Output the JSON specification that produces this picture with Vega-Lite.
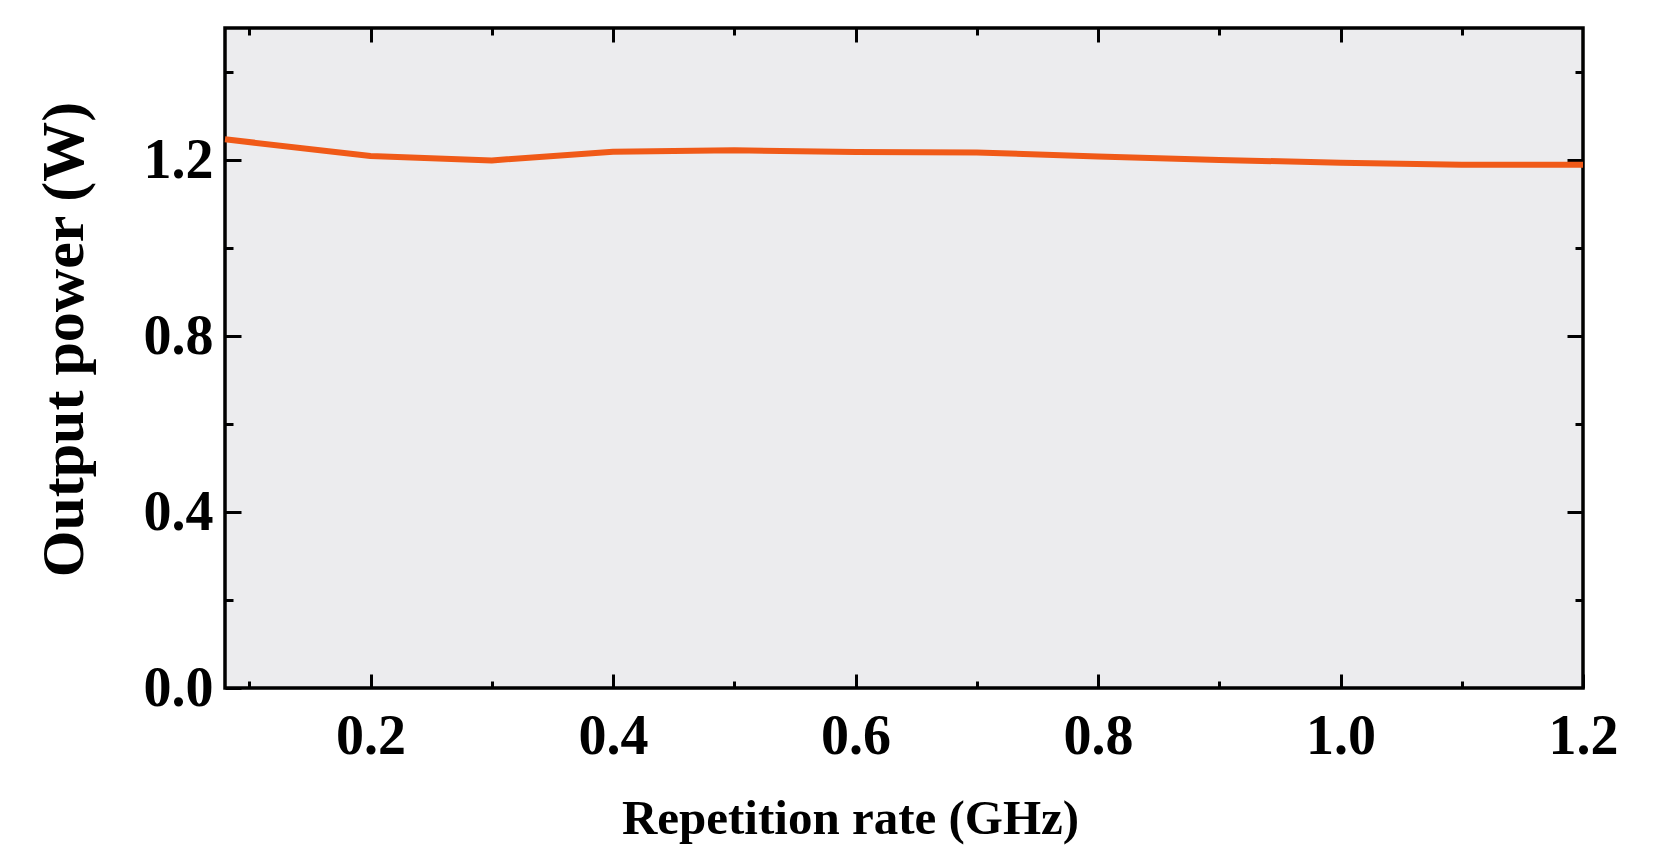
{
  "$schema": "https://vega.github.io/schema/vega-lite/v6.json",
  "autosize": {"type": "none"},
  "padding": {"left": 225, "top": 28, "right": 80, "bottom": 157},
  "width": 1358,
  "height": 660,
  "background": "white",
  "config": {
    "font": "Liberation Serif",
    "view": {"fill": "#ECECEE", "stroke": "black", "strokeWidth": 3.5},
    "axis": {"grid": false, "domain": false, "tickColor": "black", "tickWidth": 3, "labelColor": "black", "titleColor": "black", "labelFontWeight": "bold", "titleFontWeight": "bold", "labelFont": "Liberation Serif", "titleFont": "Liberation Serif"}
  },
  "data": {"values": [
    {"rate": 0.08, "power": 1.247},
    {"rate": 0.2, "power": 1.209},
    {"rate": 0.3, "power": 1.199},
    {"rate": 0.4, "power": 1.219},
    {"rate": 0.5, "power": 1.222},
    {"rate": 0.6, "power": 1.218},
    {"rate": 0.7, "power": 1.217},
    {"rate": 0.8, "power": 1.208},
    {"rate": 0.9, "power": 1.2},
    {"rate": 1.0, "power": 1.194},
    {"rate": 1.1, "power": 1.189},
    {"rate": 1.2, "power": 1.189}
  ]},
  "resolve": {"axis": {"x": "independent", "y": "independent"}},
  "layer": [
    {
      "mark": {"type": "line", "strokeOpacity": 0},
      "encoding": {
        "x": {"field": "rate", "type": "quantitative", "scale": {"domain": [0.08, 1.2], "nice": false, "zero": false},
          "axis": {"orient": "bottom", "labels": false, "title": null, "tickSize": -14, "values": [0.2, 0.4, 0.6, 0.8, 1.0, 1.2]}},
        "y": {"field": "power", "type": "quantitative", "scale": {"domain": [0, 1.5], "nice": false, "zero": true},
          "axis": {"orient": "left", "labels": false, "title": null, "tickSize": -16, "values": [0, 0.4, 0.8, 1.2]}}
      }
    },
    {
      "mark": {"type": "line", "strokeOpacity": 0},
      "encoding": {
        "x": {"field": "rate", "type": "quantitative", "scale": {"domain": [0.08, 1.2], "nice": false, "zero": false},
          "axis": {"orient": "bottom", "labels": false, "title": null, "tickSize": -7, "values": [0.1, 0.3, 0.5, 0.7, 0.9, 1.1]}},
        "y": {"field": "power", "type": "quantitative", "scale": {"domain": [0, 1.5], "nice": false, "zero": true},
          "axis": {"orient": "left", "labels": false, "title": null, "tickSize": -8, "values": [0.2, 0.6, 1.0, 1.4]}}
      }
    },
    {
      "mark": {"type": "line", "strokeOpacity": 0},
      "encoding": {
        "x": {"field": "rate", "type": "quantitative", "scale": {"domain": [0.08, 1.2], "nice": false, "zero": false},
          "axis": {"orient": "top", "labels": false, "title": null, "tickSize": -14, "values": [0.2, 0.4, 0.6, 0.8, 1.0]}},
        "y": {"field": "power", "type": "quantitative", "scale": {"domain": [0, 1.5], "nice": false, "zero": true},
          "axis": {"orient": "right", "labels": false, "title": null, "tickSize": -16, "values": [0.4, 0.8, 1.2]}}
      }
    },
    {
      "mark": {"type": "line", "strokeOpacity": 0},
      "encoding": {
        "x": {"field": "rate", "type": "quantitative", "scale": {"domain": [0.08, 1.2], "nice": false, "zero": false},
          "axis": {"orient": "top", "labels": false, "title": null, "tickSize": -7, "values": [0.1, 0.3, 0.5, 0.7, 0.9, 1.1]}},
        "y": {"field": "power", "type": "quantitative", "scale": {"domain": [0, 1.5], "nice": false, "zero": true},
          "axis": {"orient": "right", "labels": false, "title": null, "tickSize": -8, "values": [0.2, 0.6, 1.0, 1.4]}}
      }
    },
    {
      "mark": {"type": "line", "color": "#F05A18", "strokeWidth": 6, "strokeJoin": "round", "strokeCap": "butt"},
      "encoding": {
        "x": {"field": "rate", "type": "quantitative", "scale": {"domain": [0.08, 1.2], "nice": false, "zero": false},
          "axis": {"orient": "bottom", "ticks": false, "values": [0.2, 0.4, 0.6, 0.8, 1.0, 1.2], "format": ".1f",
            "labelFontSize": 56, "labelPadding": 21, "labelFlush": false,
            "title": "Repetition rate (GHz)", "titleFontSize": 49, "titleX": 625, "titleY": 145, "titleAlign": "center", "titleBaseline": "alphabetic"}},
        "y": {"field": "power", "type": "quantitative", "scale": {"domain": [0, 1.5], "nice": false, "zero": true},
          "axis": {"orient": "left", "ticks": false, "values": [0, 0.4, 0.8, 1.2], "format": ".1f",
            "labelFontSize": 56, "labelPadding": 12, "labelFlush": false,
            "title": "Output power (W)", "titleFontSize": 60, "titleAngle": -90, "titleX": -143, "titleY": 311, "titleAlign": "center", "titleBaseline": "alphabetic"}}
      }
    }
  ]
}
